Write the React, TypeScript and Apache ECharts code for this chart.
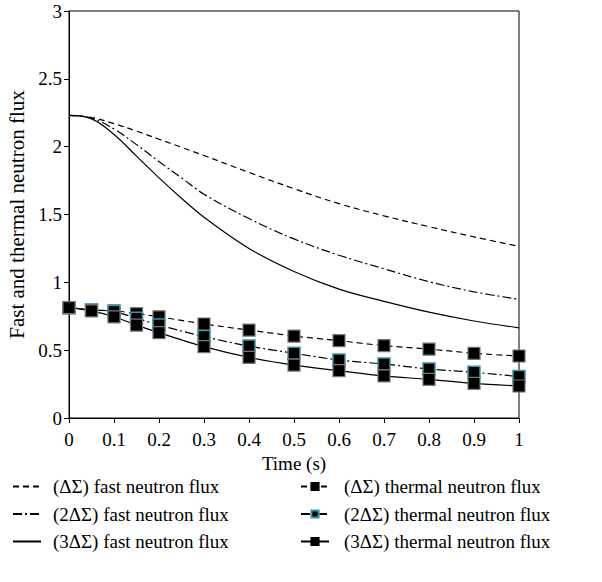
import React, { useEffect, useRef } from "react";
import * as echarts from "echarts";

const fastTimes = [0, 0.05, 0.1, 0.15, 0.2, 0.25, 0.3, 0.4, 0.5, 0.6, 0.7, 0.8, 0.9, 1.0];
const fast1 = [2.23, 2.215, 2.17, 2.115, 2.055, 1.995, 1.935, 1.81, 1.69, 1.58, 1.49, 1.41, 1.335, 1.265];
const fast2 = [2.23, 2.21, 2.13, 2.015, 1.89, 1.77, 1.65, 1.47, 1.32, 1.2, 1.1, 1.005, 0.93, 0.875];
const fast3 = [2.23, 2.205, 2.09, 1.93, 1.77, 1.62, 1.48, 1.25, 1.08, 0.95, 0.86, 0.78, 0.715, 0.665];

const thermalTimes = [0, 0.05, 0.1, 0.15, 0.2, 0.3, 0.4, 0.5, 0.6, 0.7, 0.8, 0.9, 1.0];
const thermal1 = [0.813, 0.796, 0.79, 0.77, 0.746, 0.693, 0.648, 0.604, 0.57, 0.533, 0.508, 0.477, 0.457];
const thermal2 = [0.813, 0.796, 0.785, 0.735, 0.685, 0.6, 0.53, 0.477, 0.427, 0.398, 0.361, 0.337, 0.305];
const thermal3 = [0.813, 0.79, 0.746, 0.685, 0.629, 0.526, 0.447, 0.39, 0.349, 0.31, 0.285, 0.255, 0.236];

const seriesNames = [
  "(ΔΣ) fast neutron flux",
  "(2ΔΣ) fast neutron flux",
  "(3ΔΣ) fast neutron flux",
  "(ΔΣ) thermal neutron flux",
  "(2ΔΣ) thermal neutron flux",
  "(3ΔΣ) thermal neutron flux",
];

const FONT = "'Liberation Serif', 'DejaVu Serif', serif";
const FS = 19;

const pair = (xs: number[], ys: number[]) => xs.map((x, i) => [x, ys[i]]);

export default function App() {
  const ref = useRef<HTMLDivElement>(null);
  useEffect(() => {
    if (!ref.current) return;
    const chart = echarts.init(ref.current, undefined, { renderer: "svg" });
    const dashA = [6, 4];
    const dashDot = [9, 3, 2, 3];
    const markerBase = {
      color: "#000",
      borderColor: "#777",
      borderWidth: 1.2,
    };
    const legendText = { fontFamily: FONT, fontSize: FS, color: "#000" };
    chart.setOption({
      animation: false,
      backgroundColor: "#fff",
      textStyle: { fontFamily: FONT },
      grid: {
        left: 69,
        right: 83,
        top: 11,
        bottom: 164,
        show: true,
        borderColor: "#000",
        borderWidth: 1,
        outerBoundsMode: "none",
        containLabel: false,
      },
      xAxis: {
        type: "value",
        min: 0,
        max: 1,
        interval: 0.1,
        name: "Time (s)",
        nameLocation: "middle",
        nameGap: 34,
        nameTextStyle: { fontFamily: FONT, fontSize: FS, color: "#000" },
        axisLine: { show: true, lineStyle: { color: "#000", width: 1 } },
        axisTick: { show: true, length: 5, lineStyle: { color: "#000" } },
        axisLabel: { fontFamily: FONT, fontSize: FS, color: "#000", margin: 12 },
        splitLine: { show: false },
      },
      yAxis: {
        type: "value",
        min: 0,
        max: 3,
        interval: 0.5,
        name: "Fast and thermal neutron flux",
        nameLocation: "middle",
        nameGap: 36,
        nameTextStyle: { fontFamily: FONT, fontSize: 21, color: "#000" },
        axisLine: { show: true, lineStyle: { color: "#000", width: 1 } },
        axisTick: { show: true, length: 5, lineStyle: { color: "#000" } },
        axisLabel: { fontFamily: FONT, fontSize: FS, color: "#000", margin: 7 },
        splitLine: { show: false },
      },
      legend: [
        {
          data: seriesNames.slice(0, 3).map((n) => ({ name: n, itemStyle: { opacity: 0 } })),
          orient: "vertical",
          left: 12,
          top: 477,
          padding: 0,
          itemWidth: 28,
          itemHeight: 9,
          itemGap: 8.5,
          textStyle: { ...legendText, padding: [0, 0, 0, 7] },
        },
        {
          data: [
            { name: seriesNames[3], itemStyle: { borderColor: "#000" } },
            { name: seriesNames[4], itemStyle: { borderColor: "#3f93a8" } },
            { name: seriesNames[5], itemStyle: { borderColor: "#000" } },
          ],
          orient: "vertical",
          left: 300,
          top: 477,
          padding: 0,
          itemWidth: 28,
          itemHeight: 9,
          itemGap: 8.5,
          textStyle: { ...legendText, padding: [0, 0, 0, 10] },
        },
      ],
      series: [
        {
          name: seriesNames[0],
          type: "line",
          data: pair(fastTimes, fast1),
          smooth: 0.4,
          symbol: "none",
          lineStyle: { color: "#000", width: 1.2, type: dashA },
          itemStyle: { color: "#000" },
        },
        {
          name: seriesNames[1],
          type: "line",
          data: pair(fastTimes, fast2),
          smooth: 0.4,
          symbol: "none",
          lineStyle: { color: "#000", width: 1.2, type: dashDot },
          itemStyle: { color: "#000" },
        },
        {
          name: seriesNames[2],
          type: "line",
          data: pair(fastTimes, fast3),
          smooth: 0.4,
          symbol: "none",
          lineStyle: { color: "#000", width: 1.2, type: "solid" },
          itemStyle: { color: "#000" },
        },
        {
          name: seriesNames[3],
          type: "line",
          data: pair(thermalTimes, thermal1),
          smooth: 0.3,
          symbol: "rect",
          symbolSize: 12,
          lineStyle: { color: "#000", width: 1.2, type: dashA },
          itemStyle: markerBase,
        },
        {
          name: seriesNames[4],
          type: "line",
          data: pair(thermalTimes, thermal2),
          smooth: 0.3,
          symbol: "rect",
          symbolSize: 12,
          lineStyle: { color: "#000", width: 1.2, type: dashDot },
          itemStyle: { color: "#000", borderColor: "#3f93a8", borderWidth: 1.5 },
        },
        {
          name: seriesNames[5],
          type: "line",
          data: pair(thermalTimes, thermal3),
          smooth: 0.3,
          symbol: "rect",
          symbolSize: 12,
          lineStyle: { color: "#000", width: 1.2, type: "solid" },
          itemStyle: markerBase,
        },
      ],
    });
    return () => chart.dispose();
  }, []);
  return (
    <div
      ref={ref}
      style={{ position: "fixed", left: 0, top: 0, width: 602, height: 582 }}
    />
  );
}
